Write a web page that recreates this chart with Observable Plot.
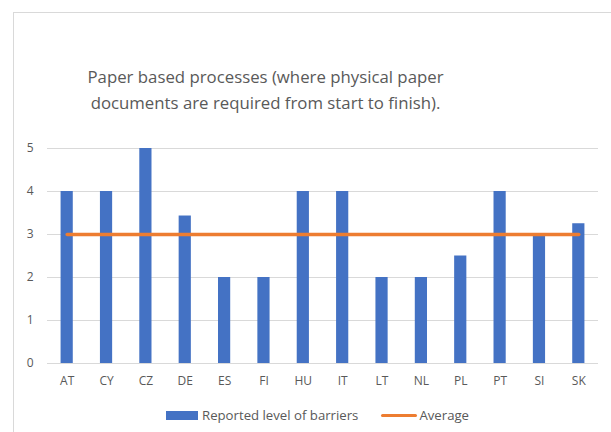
<!DOCTYPE html>
<html><head><meta charset="utf-8">
<script src="https://cdn.jsdelivr.net/npm/d3@7"></script>
<script src="https://cdn.jsdelivr.net/npm/@observablehq/plot@0.6"></script>
<style>
body{margin:0;background:#fff;font-family:"Open Sans",sans-serif;}
#frame{position:absolute;left:13px;top:12px;width:640px;height:460px;border:1px solid #d9d9d9;box-sizing:border-box;}
#title{position:absolute;left:0;width:531px;top:64px;text-align:center;font-size:16.8px;line-height:26px;color:#595959;}
#chart{position:absolute;left:0;top:130px;}
#legend{position:absolute;top:406px;left:166px;font-size:13.2px;color:#595959;display:flex;align-items:center;}
.sw{display:inline-block;width:32px;height:9px;background:#4472C4;margin-right:4px;}
.ln{display:inline-block;width:36px;height:3px;background:#ED7D31;border-radius:2px;margin-left:23px;margin-right:2px;}
</style></head><body>
<div id="frame"></div>
<div id="title">Paper based processes (where physical paper<br>documents are required from start to finish).</div>
<div id="chart"></div>
<div id="legend"><span class="sw"></span>Reported level of barriers<span class="ln"></span>Average</div>
<script>
const countries = ["AT","CY","CZ","DE","ES","FI","HU","IT","LT","NL","PL","PT","SI","SK"];
const barriers = [4,4,5,3.43,2,2,4,4,2,2,2.5,4,3,3.25];
const average = [3,3,3,3,3,3,3,3,3,3,3,3,3,3];
const yTicks = [0,1,2,3,4,5];

const data = countries.map((c,i)=>({country:c, value:barriers[i], avg:average[i]}));

const chart = Plot.plot({
  width: 611,
  height: 262,
  marginTop: 18,
  marginBottom: 29,
  marginLeft: 47,
  marginRight: 13,
  style: {fontFamily: "Open Sans, sans-serif", fontSize: "12px", color: "#595959", background: "transparent"},
  x: {domain: countries, paddingInner: 0.69, paddingOuter: 0.345, round: false, label: null, tickSize: 0, tickPadding: 13},
  y: {domain: [0,5], ticks: yTicks, label: null, tickSize: 0, tickPadding: 14, tickFormat: d3.format("d")},
  marks: [
    Plot.gridY(yTicks, {stroke: "#d9d9d9", strokeOpacity: 1, strokeWidth: 1.2}),
    Plot.barY(data, {x: "country", y: "value", fill: "#4472C4"}),
    Plot.line(data, {x: "country", y: "avg", stroke: "#ED7D31", strokeWidth: 3.5, strokeLinecap: "round"})
  ]
});
document.getElementById("chart").appendChild(chart);
</script>
</body></html>
